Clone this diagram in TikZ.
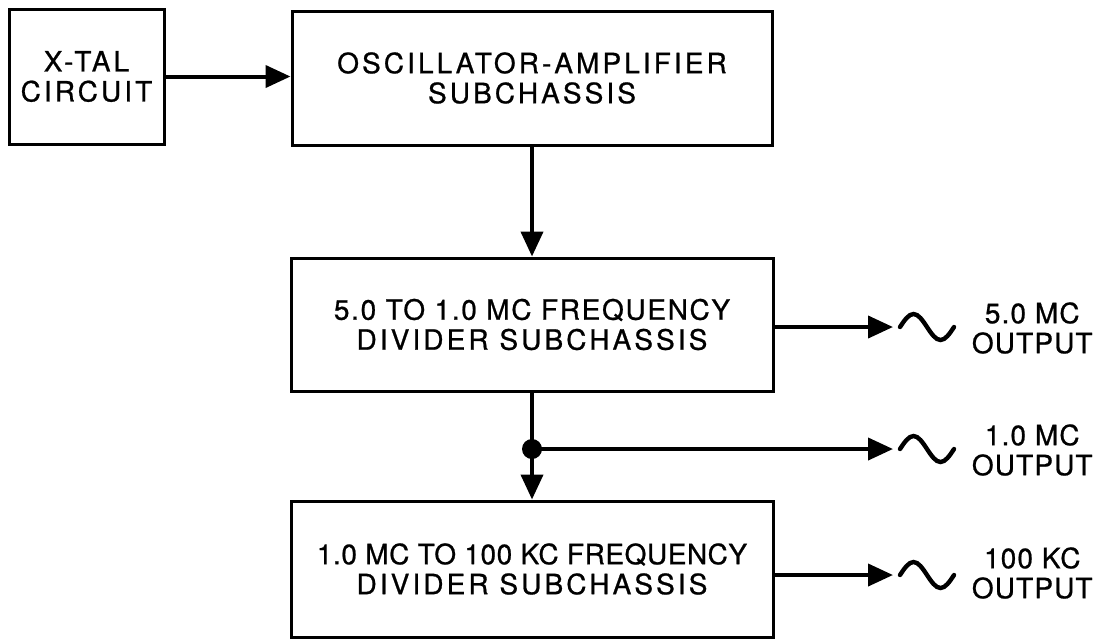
\documentclass[tikz,border=0pt]{standalone}
\usepackage{fontspec}
\setmainfont{TeX Gyre Heros}[LetterSpace=11,FakeBold=0.8]
\usetikzlibrary{arrows.meta}
\newcommand{\ls}[2]{{\addfontfeature{LetterSpace=#1}#2}}
\begin{document}
\begin{tikzpicture}[x=0.5pt,y=-0.5pt,
  lbl/.style={font=\fontsize{14}{15}\selectfont},
  blk/.style={draw, line width=1.5pt, inner sep=0pt, align=center, lbl},
  conn/.style={line width=2pt, -{Triangle[length=12.5pt,width=11pt]}},
  plain/.style={line width=2pt},
  wave/.style={line width=2.2pt, line cap=round},
  outlbl/.style={anchor=east, align=center, inner sep=0pt, lbl},
  junction/.style={circle, fill, inner sep=0pt, minimum size=10pt}]
\useasboundingbox (0,0) rectangle (1101,639);
% blocks
\node[blk, minimum width=77.5pt, minimum height=67.5pt] (xtal) at (86.5,76.5) {X-TAL\\CIRCUIT};
\node[blk, minimum width=240pt, minimum height=67pt] (osc) at (532,78) {OSCILLATOR-AMPLIFIER\\SUBCHASSIS};
\node[blk, minimum width=241pt, minimum height=66.5pt] (div1) at (532,324.5) {\ls{6}{5.0 TO 1.0 MC FREQUENCY}\\DIVIDER SUBCHASSIS};
\node[blk, minimum width=241pt, minimum height=68pt] (div2) at (532,569) {\ls{2}{1.0 MC TO 100 KC FREQUENCY}\\DIVIDER SUBCHASSIS};
% junction
\node[junction] (j) at (532,449) {};
% arrow end points
\coordinate (o1) at (893,327);
\coordinate (o2) at (893,449);
\coordinate (o3) at (893,575);
% connectors
\draw[conn] (xtal.east) -- (xtal.east -| osc.west);
\draw[conn] (osc.south) -- (div1.north);
\draw[plain] (div1.south) -- (j.center);
\draw[conn] (j.center) -- (div2.north);
\draw[conn] (j.center) -- (o2);
\draw[conn] (div1.east |- o1) -- (o1);
\draw[conn] (div2.east |- o3) -- (o3);
% sine symbols
\foreach \yy in {327,449,575}{
  \draw[wave] (900,\yy) sin ++(13.5,-13) cos ++(13.5,13) sin ++(13.5,13) cos ++(13.5,-13);
}
% output labels
\node[outlbl] (l1) at (1093,328) {\ls{4}{5.0 MC}\\\ls{4}{OUTPUT}};
\node[outlbl] (l2) at (1093,450) {\ls{4}{1.0 MC}\\\ls{4}{OUTPUT}};
\node[outlbl] (l3) at (1093,573) {\ls{4}{100 KC}\\\ls{4}{OUTPUT}};
\end{tikzpicture}
\end{document}
